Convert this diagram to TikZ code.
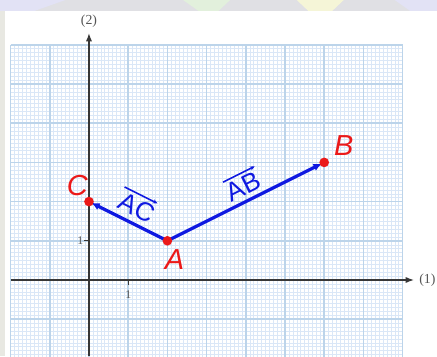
\documentclass[tikz,border=0pt]{standalone}
\usepackage{fontspec}
\setmainfont{Liberation Serif}
\newfontfamily\labfont{Liberation Sans}
\usetikzlibrary{arrows.meta}
\definecolor{gridmajor}{RGB}{188,212,234}
\definecolor{gridminor}{RGB}{218,231,247}
\definecolor{axisgray}{RGB}{55,55,55}
\definecolor{vecblue}{RGB}{15,25,225}
\definecolor{ptred}{RGB}{235,25,25}
\definecolor{stripgray}{RGB}{224,224,228}
\definecolor{pastellav}{RGB}{226,226,245}
\definecolor{pastelgreen}{RGB}{226,240,220}
\definecolor{pastelyellow}{RGB}{245,245,215}
\definecolor{sidegray}{RGB}{232,232,226}
\tikzset{
  minorgrid/.style={gridminor, line width=0.3pt},
  majorgrid/.style={gridmajor, line width=1.1pt},
  axisline/.style={axisgray, line width=1pt, -{Latex[length=6pt,width=4.5pt]}},
  vecline/.style={vecblue, line width=2.4pt, -{Latex[length=6pt,width=5.5pt]}, shorten >=2pt},
  ptdot/.style={circle, fill=ptred, inner sep=0pt, minimum size=7pt},
  ptlabel/.style={text=ptred, font=\labfont\itshape\fontsize{21}{21}\selectfont, inner sep=0pt},
  veclabel/.style={text=vecblue, font=\labfont\fontsize{19}{19}\selectfont, inner sep=0pt},
  vecbar/.style={vecblue, line width=1.1pt, -{Stealth[length=3.5pt,width=3pt]}},
  axislabel/.style={text=axisgray!85, font=\fontsize{10}{10}\selectfont, inner sep=0pt},
  ticklabel/.style={text=axisgray!85, font=\fontsize{8.5}{8.5}\selectfont, inner sep=0pt}
}
\begin{document}
\begin{tikzpicture}[x=1cm,y=1cm]
\useasboundingbox (-2.270,-1.939) rectangle (8.878,7.143);
\clip (-2.270,-1.939) rectangle (8.878,7.143);
% backdrop
\fill[stripgray] (-2.270,-1.939) rectangle (8.878,7.143);
\fill[pastellav] (-2.27,7.143) -- (-0.6,7.143) -- (-1.4,6.86) -- (-2.27,6.86) -- cycle;
\fill[pastelgreen] (2.4,7.143) -- (3.6,7.143) -- (3.3,6.86) -- (2.8,6.86) -- cycle;
\fill[pastelyellow] (5.3,7.143) -- (6.5,7.143) -- (6.2,6.86) -- (5.6,6.86) -- cycle;
\fill[pastellav] (7.8,7.143) -- (8.878,7.143) -- (8.878,6.86) -- (8.2,6.86) -- cycle;
\fill[sidegray] (-2.27,6.86) rectangle (-2.143,-1.939);
\fill[white] (-2.143,-1.939) rectangle (8.878,6.862);
% grid
\draw[minorgrid] (-2,-2) grid[step=0.1] (8,6);
\draw[majorgrid] (-2,-2) grid[step=1] (8,6);
% axes
\coordinate (O) at (0,0);
\coordinate (xs) at (-2,0);
\coordinate (xe) at (8.29,0);
\coordinate (ys) at (0,-1.94);
\coordinate (ye) at (0,6.30);
\draw[axisline] (xs) -- (xe);
\draw[axisline] (ys) -- (ye);
\node[axislabel, anchor=west] (l1) at (8.42,0) {(1)};
\node[axislabel] (l2) at (0,6.6) {(2)};
% ticks
\coordinate (t1) at (1,0);
\coordinate (t2) at (0,1);
\draw[axisgray, line width=0.6pt] (t1) -- ++(0,-0.12);
\draw[axisgray, line width=0.6pt] (t2) -- ++(-0.12,0);
\node[ticklabel] (tx) at (1,-0.38) {1};
\node[ticklabel] (ty) at (-0.22,1) {1};
% points
\coordinate (A) at (2,1);
\coordinate (B) at (6,3);
\coordinate (C) at (0,2);
\draw[vecline] (A) -- (B);
\draw[vecline] (A) -- (C);
\node[ptdot] (dA) at (A) {};
\node[ptdot] (dB) at (B) {};
\node[ptdot] (dC) at (C) {};
\node[ptlabel] (nA) at (2.18,0.52) {A};
\node[ptlabel] (nB) at (6.5,3.42) {B};
\node[ptlabel] (nC) at (-0.3,2.4) {C};
\node[veclabel, rotate=26.57] (vAB) at (3.93,2.38) {AB};
\draw[vecbar] ([yshift=3pt]vAB.north west) -- ([yshift=3pt]vAB.north east);
\node[veclabel, rotate=-26.57] (vAC) at (1.22,1.84) {AC};
\draw[vecbar] ([yshift=3pt]vAC.north west) -- ([yshift=3pt]vAC.north east);
\end{tikzpicture}
\end{document}
